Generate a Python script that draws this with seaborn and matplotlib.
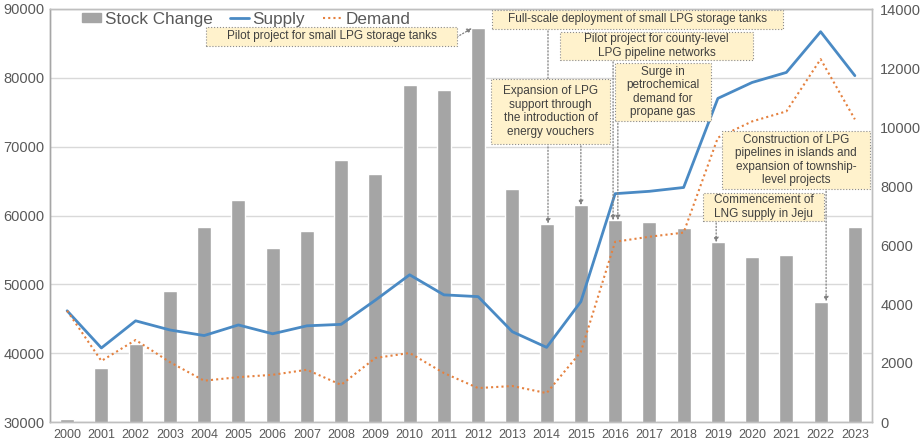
import numpy as np
import pandas as pd
import seaborn as sns
import matplotlib.pyplot as plt
from matplotlib.patches import Patch, Rectangle
from matplotlib.lines import Line2D

years = list(range(2000, 2024))
stock_change = [30400, 37900, 41300, 49100, 58300, 62300, 55300, 57800, 68000, 66100, 78900, 78200,
                87200, 63900, 58800, 61500, 59300, 59000, 58200, 56100, 54000, 54300, 47500, 58300]
supply = [3770, 2510, 3430, 3120, 2930, 3290, 2990, 3260, 3310, 4130, 4990, 4310,
          4250, 3060, 2530, 4080, 7740, 7820, 7950, 10970, 11510, 11850, 13230, 11740]
demand = [3770, 2070, 2780, 2030, 1400, 1520, 1600, 1770, 1260, 2170, 2340, 1660,
          1150, 1220, 980, 2380, 6110, 6280, 6420, 9640, 10190, 10530, 12300, 10260]

# text, box (x0, x1, y_bottom, y_top on left axis), arrow start (x, y), target bar index, arrow end x
notes = [
    ("Pilot project for small LPG storage tanks", (4.06, 11.38, 84625, 87386), (11.38, 85933), 12, 11.82),
    ("Full-scale deployment of small LPG storage tanks", (12.40, 20.90, 87095, 89855), (14.04, 87300), 14, 14.04),
    ("Pilot project for county-level\nLPG pipeline networks", (14.39, 20.03, 82591, 86659), (15.94, 82800), 16, 15.94),
    ("Expansion of LPG\nsupport through\nthe introduction of\nenergy vouchers", (12.38, 15.85, 70388, 79831), (15.00, 70600), 15, 15.00),
    ("Surge in\npetrochemical\ndemand for\npropane gas", (16.00, 18.80, 73729, 82155), (16.08, 73900), 16, 16.08),
    ("Construction of LPG\npipelines in islands and\nexpansion of township-\nlevel projects", (19.12, 23.44, 63850, 72277), (22.16, 64000), 22, 22.16),
    ("Commencement of\nLNG supply in Jeju", (18.57, 22.10, 59201, 63269), (18.95, 59400), 19, 18.95),
]

sns.set_style("white")
plt.rcParams['font.family'] = ['Liberation Sans', 'DejaVu Sans']

df = pd.DataFrame({'year': [str(y) for y in years], 'stock': stock_change,
                   'supply': supply, 'demand': demand, 'pos': np.arange(len(years))})

fig = plt.figure(figsize=(9.23, 4.43), dpi=100)
ax = fig.add_axes([50 / 923, 1 - 422 / 443, 822 / 923, 413 / 443])
sns.barplot(data=df, x='year', y='stock', color='#A5A5A5', saturation=1, width=0.41, ax=ax)
ax.set_ylim(30000, 90000)
ax.set_yticks(range(30000, 90001, 10000))
ax.yaxis.grid(True, color='#D9D9D9', lw=1)
ax.set_axisbelow(True)

ax2 = ax.twinx()
sns.lineplot(data=df, x='pos', y='supply', color='#4A8AC4', lw=2, ax=ax2)
sns.lineplot(data=df, x='pos', y='demand', color='#E5813F', lw=1.5, linestyle=(0, (1, 1.5)), ax=ax2)
ax2.set_ylim(0, 14000)
ax2.set_yticks(range(0, 14001, 2000))
ax.set_xlim(-0.5, len(years) - 0.5)

for a in (ax, ax2):
    a.set_xlabel("")
    a.set_ylabel("")
    a.tick_params(length=0, colors='#595959')
    for s in a.spines.values():
        s.set_color('#BFBFBF')
        s.set_linewidth(1)
ax.spines['left'].set_color('#A6A6A6')
ax2.spines['left'].set_color('#A6A6A6')
ax.tick_params(axis='x', labelsize=9, pad=5)
ax.tick_params(axis='y', labelsize=10.5, pad=4)
ax2.tick_params(axis='y', labelsize=10.5, pad=6)

for text, (x0, x1, y0, y1), (ax0, ay0), idx, ax1 in notes:
    ax2.annotate("", xy=(ax1, stock_change[idx]), xycoords=ax.transData,
                 xytext=(ax0, ay0), textcoords=ax.transData, annotation_clip=False,
                 arrowprops=dict(arrowstyle='-|>', color='#7F7F7F', lw=0.9, linestyle=':',
                                 shrinkA=0, shrinkB=0, mutation_scale=7), zorder=5)
    ax2.add_patch(Rectangle((x0, y0), x1 - x0, y1 - y0, transform=ax.transData, fc='#FFF2CC',
                            ec='#8C8C8C', lw=0.8, ls=':', zorder=6, clip_on=False))
    ax2.text((x0 + x1) / 2, (y0 + y1) / 2, text, transform=ax.transData, ha='center', va='center',
             fontsize=8.5, color='#404040', linespacing=1.15, zorder=7)

handles = [Patch(color='#A5A5A5'),
           Line2D([], [], color='#4A8AC4', lw=2),
           Line2D([], [], color='#E5813F', lw=1.5, linestyle=(0, (1, 1.5)))]
leg = ax2.legend(handles, ['Stock Change', 'Supply', 'Demand'], ncol=3, frameon=False,
                 loc='upper left', bbox_to_anchor=(0.031, 1.01), fontsize=12.3,
                 handlelength=1.1, handleheight=0.45, handletextpad=0.2, columnspacing=1.05,
                 borderaxespad=0)
for t in leg.get_texts():
    t.set_color('#595959')

fig.savefig("out.png", dpi=100)
